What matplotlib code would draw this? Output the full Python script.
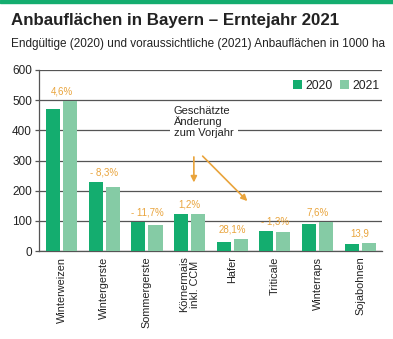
import matplotlib
matplotlib.use("Agg")
import matplotlib.pyplot as plt
import numpy as np

categories = ["Winterweizen", "Wintergerste", "Sommergerste", "Körnermais\ninkl. CCM",
              "Hafer", "Triticale", "Winterraps", "Sojabohnen"]
values_2020 = [470, 229, 95, 122, 31, 65, 89, 23]
values_2021 = [497, 211, 86, 123, 39, 64, 96, 25]
change_labels = ["4,6%", "- 8,3%", "- 11,7%", "1,2%", "28,1%", "- 1,3%", "7,6%", "13,9"]
yticks = [0, 100, 200, 300, 400, 500, 600]

c2020 = "#14ad6f"
c2021 = "#85cba5"
corange = "#e9a43c"
grid_c = "#555555"

plt.rcParams['font.family'] = ['Liberation Sans', 'DejaVu Sans']

W, H = 393, 339
fig = plt.figure(figsize=(W/100, H/100), dpi=100)

# top green stripe
fig.patches.append(plt.Rectangle((0, 1 - 2.5/H), 1, 2.5/H, transform=fig.transFigure,
                                 color=c2020, zorder=0))

fig.text(11/W, 1 - 21/H, "Anbauflächen in Bayern – Erntejahr 2021", fontsize=12.2,
         fontweight="bold", color="#222222", va="center", ha="left")
fig.text(11/W, 1 - 44/H, "Endgültige (2020) und voraussichtliche (2021) Anbauflächen in 1000 ha",
         fontsize=8.45, color="#222222", va="center", ha="left")

left, right, top, bottom = 39, 382, 70, 251
ax = fig.add_axes([left/W, 1 - bottom/H, (right-left)/W, (bottom-top)/H])

x = np.arange(len(categories))
w = 0.33
off = 0.2
ax.bar(x - off, values_2020, width=w, color=c2020, label="2020", zorder=3)
ax.bar(x + off, values_2021, width=w, color=c2021, label="2021", zorder=3)

for xi, a, b, lab in zip(x, values_2020, values_2021, change_labels):
    ax.text(xi, max(a, b) + 32, lab, ha="center", va="center", fontsize=7, color=corange)

ax.set_xlim(-0.53, 7.51)
ax.set_ylim(0, 600)
ax.set_yticks(yticks)
ax.set_yticklabels([str(t) for t in yticks], fontsize=8.5, color="#222222")
ax.set_xticks(x)
ax.set_xticklabels(categories, rotation=90, fontsize=7.8, color="#222222", va="top")
ax.tick_params(axis="x", length=0, pad=4)
ax.tick_params(axis="y", length=3, width=0.9, color=grid_c, pad=2)
ax.grid(axis="y", color=grid_c, linewidth=0.9, zorder=0)
for s in ["top", "right"]:
    ax.spines[s].set_visible(False)
ax.spines["left"].set_color(grid_c)
ax.spines["left"].set_linewidth(0.9)
ax.spines["bottom"].set_color(grid_c)
ax.spines["bottom"].set_linewidth(0.9)

ax.text(2.63, 481, "Geschätzte\nÄnderung\nzum Vorjahr", fontsize=8, color="#222222",
        ha="left", va="top", linespacing=1.05, zorder=4,
        bbox=dict(facecolor="white", edgecolor="none", pad=3))

ax.annotate("", xy=(3.10, 218), xytext=(3.10, 321),
            arrowprops=dict(arrowstyle="-|>", color=corange, lw=1.2, mutation_scale=9), zorder=5)
ax.annotate("", xy=(4.40, 159), xytext=(3.26, 321),
            arrowprops=dict(arrowstyle="-|>", color=corange, lw=1.2, mutation_scale=9), zorder=5)

leg = ax.legend(loc="upper right", bbox_to_anchor=(1.0, 0.96), ncol=2, frameon=True,
                fontsize=8.8, handlelength=0.7, handleheight=0.7, handletextpad=0.3,
                columnspacing=0.6, borderpad=0.2, borderaxespad=0.0, edgecolor="none",
                facecolor="white", framealpha=1)
for t in leg.get_texts():
    t.set_color("#222222")

fig.savefig("out.png", dpi=100)
